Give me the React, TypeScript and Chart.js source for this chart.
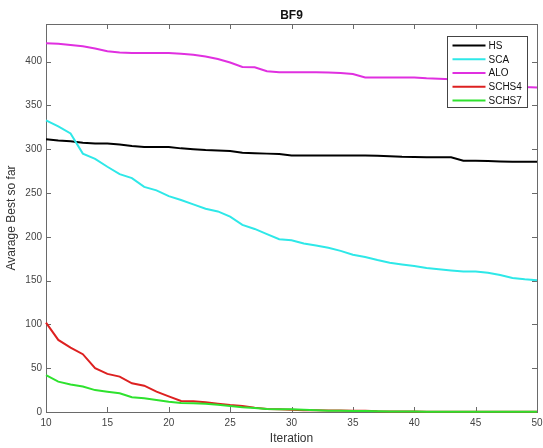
import React, { useEffect, useRef } from "react";
import { Chart, registerables } from "chart.js";

Chart.register(...registerables);

const iterations = [10, 11, 12, 13, 14, 15, 16, 17, 18, 19, 20, 21, 22, 23, 24, 25, 26, 27, 28, 29, 30, 31, 32, 33, 34, 35, 36, 37, 38, 39, 40, 41, 42, 43, 44, 45, 46, 47, 48, 49, 50];

const hsValues = [311.5, 310, 309, 307.5, 306.6, 306.6, 305.5, 303.6, 302.5, 302.5, 302.5, 301, 300, 299, 298.5, 298, 296, 295.5, 295, 294.5, 293, 293, 293, 293, 293, 293, 293, 292.6, 292, 291.4, 291.2, 291, 291, 290.8, 287, 286.8, 286.5, 286, 285.7, 285.7, 285.7];

const scaValues = [333, 326, 318, 295, 289, 280, 271.6, 267, 257, 253, 246.5, 242, 237, 232, 229, 223, 213.7, 209, 203, 197.3, 196, 192.5, 190, 187.5, 184, 179.5, 177, 173.5, 170.5, 168.5, 166.8, 164.5, 163, 161.5, 160.3, 160.3, 159, 156.5, 153, 151.5, 150.5];

const aloValues = [421, 420.5, 419, 417.5, 415, 412, 410.5, 410, 410, 410, 410, 409, 408, 406, 403, 399, 394, 393.5, 389, 388, 388, 388, 388, 387.5, 387, 386, 382, 382, 382, 382, 382, 381, 380.5, 380, 378, 377, 376, 374, 372, 371, 370.5];

const schs4Values = [102, 82.3, 73.5, 66, 50, 43.5, 40.4, 32.8, 30, 23.2, 17.8, 12.5, 12.2, 11, 9.5, 8, 6.9, 5, 3.5, 3, 2.5, 2, 2, 1.8, 1.6, 1.5, 1.5, 0.8, 0.6, 0.5, 0.5, 0.4, 0.4, 0.4, 0.3, 0.3, 0.3, 0.3, 0.3, 0.3, 0.3];

const schs7Values = [42, 34.7, 31.5, 29, 25, 23.2, 21.3, 16.8, 15.6, 13.7, 11.8, 10.3, 10, 9.3, 8.2, 6.9, 5.3, 4.5, 3.5, 3.2, 3, 2.5, 2, 1.5, 1.3, 1.2, 1, 0.8, 0.6, 0.5, 0.5, 0.4, 0.4, 0.4, 0.3, 0.3, 0.3, 0.3, 0.3, 0.3, 0.3];

const seriesNames = ["HS", "SCA", "ALO", "SCHS4", "SCHS7"];
const seriesColors = ["#000000", "#2ee8e8", "#e030e0", "#dd2020", "#2ee22e"];

const xTicks = [10, 15, 20, 25, 30, 35, 40, 45, 50];
const yTicks = [0, 50, 100, 150, 200, 250, 300, 350, 400];

const chartTitle = "BF9";
const xTitle = "Iteration";
const yTitle = "Avarage Best so far";

const FONT = "'Liberation Sans', Arial, Helvetica, sans-serif";

const boxPlugin = {
  id: "matlabBox",
  beforeDatasetsDraw(chart: any) {
    const { ctx, chartArea } = chart;
    const { left, right, top, bottom } = chartArea;
    ctx.save();
    ctx.strokeStyle = "#6a6a6a";
    ctx.lineWidth = 1;
    const tl = 5;
    const xs = chart.scales.x;
    const ys = chart.scales.y;
    ctx.beginPath();
    for (const t of xs.ticks) {
      const px = Math.round(xs.getPixelForValue(t.value)) + 0.5;
      ctx.moveTo(px, bottom);
      ctx.lineTo(px, bottom - tl);
      ctx.moveTo(px, top);
      ctx.lineTo(px, top + tl);
    }
    for (const t of ys.ticks) {
      const py = Math.round(ys.getPixelForValue(t.value)) + 0.5;
      ctx.moveTo(left, py);
      ctx.lineTo(left + tl, py);
      ctx.moveTo(right, py);
      ctx.lineTo(right - tl, py);
    }
    ctx.stroke();
    ctx.strokeRect(Math.round(left) + 0.5, Math.round(top) + 0.5, Math.round(right - left), Math.round(bottom - top));
    ctx.restore();
  },
};

const overlayPlugin = {
  id: "matlabOverlay",
  afterDraw(chart: any) {
    const { ctx, chartArea } = chart;
    ctx.save();
    // title
    ctx.fillStyle = "#111";
    ctx.font = `bold 12px ${FONT}`;
    ctx.textAlign = "center";
    ctx.textBaseline = "middle";
    ctx.fillText(chartTitle, (chartArea.left + chartArea.right) / 2, 16);

    // legend
    const bw = 80;
    const bh = 71;
    const bx = Math.round(chartArea.right - 10 - bw) + 0.5;
    const by = Math.round(chartArea.top + 12) + 0.5;
    ctx.fillStyle = "#ffffff";
    ctx.fillRect(bx, by, bw, bh);
    ctx.strokeStyle = "#444";
    ctx.lineWidth = 1;
    ctx.strokeRect(bx, by, bw, bh);
    ctx.font = `10px ${FONT}`;
    ctx.textAlign = "left";
    ctx.textBaseline = "middle";
    chart.data.datasets.forEach((ds: any, i: number) => {
      const y = by + 9 + i * 13.75;
      ctx.strokeStyle = ds.borderColor;
      ctx.lineWidth = 2;
      ctx.beginPath();
      ctx.moveTo(bx + 5, y);
      ctx.lineTo(bx + 38, y);
      ctx.stroke();
      ctx.fillStyle = "#111";
      ctx.fillText(ds.label, bx + 41, y + 0.5);
    });
    ctx.restore();
  },
};

export default function App() {
  const canvasRef = useRef<HTMLCanvasElement | null>(null);

  useEffect(() => {
    document.body.style.margin = "0";
    const canvas = canvasRef.current;
    if (!canvas) return;
    const valuesList = [hsValues, scaValues, aloValues, schs4Values, schs7Values];
    const datasets = seriesNames.map((name, i) => ({
      label: name,
      data: iterations.map((it, k) => ({ x: it, y: valuesList[i][k] })),
      borderColor: seriesColors[i],
      backgroundColor: seriesColors[i],
      borderWidth: 2,
      pointRadius: 0,
      tension: 0,
      fill: false,
      clip: 3,
      order: seriesNames.length - 1 - i,
    }));

    const chart = new Chart(canvas, {
      type: "line",
      data: { datasets },
      plugins: [boxPlugin, overlayPlugin],
      options: {
        animation: false,
        responsive: false,
        devicePixelRatio: 1,
        layout: { padding: { top: 24, right: 6, left: 0, bottom: 0 } },
        plugins: {
          legend: { display: false },
          title: { display: false },
          tooltip: { enabled: false },
        },
        scales: {
          x: {
            type: "linear",
            min: 10,
            max: 50,
            afterBuildTicks: (scale: any) => {
              scale.ticks = xTicks.map((v) => ({ value: v }));
            },
            afterFit: (scale: any) => {
              scale.height = 36;
              scale.paddingLeft = 0;
              scale.paddingRight = 0;
            },
            grid: { display: false, drawTicks: false },
            border: { display: false },
            ticks: {
              color: "#444",
              font: { size: 10, family: FONT },
              padding: 5,
              maxRotation: 0,
              autoSkip: false,
            },
            title: {
              display: true,
              text: xTitle,
              color: "#333",
              font: { size: 12, family: FONT },
              padding: { top: 0, bottom: 2 },
            },
          },
          y: {
            type: "linear",
            min: 0,
            max: 443,
            afterBuildTicks: (scale: any) => {
              scale.ticks = yTicks.map((v) => ({ value: v }));
            },
            afterFit: (scale: any) => {
              scale.width = 46;
              scale.paddingTop = 0;
              scale.paddingBottom = 0;
            },
            grid: { display: false, drawTicks: false },
            border: { display: false },
            ticks: {
              color: "#444",
              font: { size: 10, family: FONT },
              padding: 4,
              autoSkip: false,
            },
            title: {
              display: true,
              text: yTitle,
              color: "#333",
              font: { size: 12, family: FONT },
              padding: { top: 4.5, bottom: 0 },
            },
          },
        },
      },
    });
    return () => chart.destroy();
  }, []);

  return (
    <div style={{ position: "absolute", left: 0, top: 0, width: 543, height: 448, background: "#fff" }}>
      <canvas ref={canvasRef} width={543} height={448} style={{ width: 543, height: 448, display: "block" }} />
    </div>
  );
}
